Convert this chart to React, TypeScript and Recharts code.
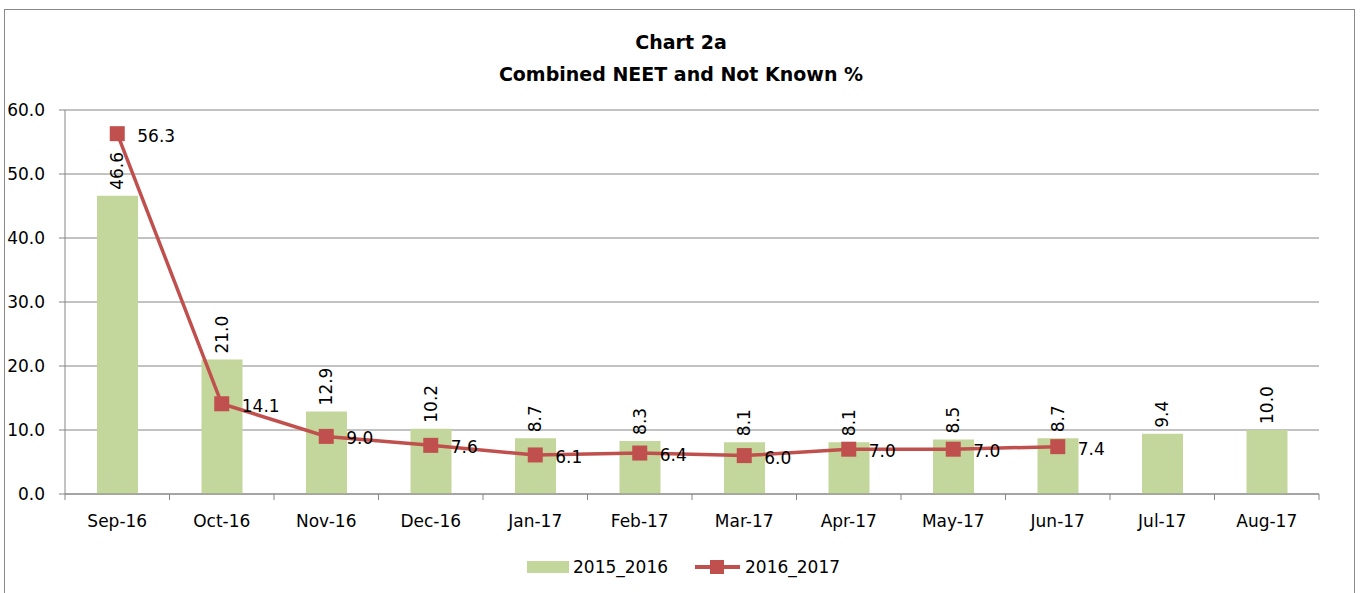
import React from "react";
import {
  ComposedChart,
  Bar,
  Line,
  XAxis,
  YAxis,
  CartesianGrid,
  LabelList,
} from "recharts";

const categories = ["Sep-16", "Oct-16", "Nov-16", "Dec-16", "Jan-17", "Feb-17", "Mar-17", "Apr-17", "May-17", "Jun-17", "Jul-17", "Aug-17"];
const series2015_2016 = [46.6, 21.0, 12.9, 10.2, 8.7, 8.3, 8.1, 8.1, 8.5, 8.7, 9.4, 10.0];
const series2016_2017: (number | null)[] = [56.3, 14.1, 9.0, 7.6, 6.1, 6.4, 6.0, 7.0, 7.0, 7.4, null, null];
const yTicks = [0, 10, 20, 30, 40, 50, 60];
const titleLines = ["Chart 2a", "Combined NEET and Not Known %"];
const seriesNames = ["2015_2016", "2016_2017"];

const data = categories.map((c, i) => ({
  cat: c,
  a: series2015_2016[i],
  b: series2016_2017[i],
}));

const W = 1362;
const H = 593;
const MARGIN = { top: 110, right: 43, bottom: 59, left: 5 };
const YAXIS_W = 60;
const XAXIS_H = 40;
const FONT = "'DejaVu Sans', sans-serif";
const FS = 17;
const GREEN = "#C3D69B";
const RED = "#C0504D";
const GRID = "#868686";
const BAND = (W - MARGIN.left - MARGIN.right - YAXIS_W) / categories.length;

const XTick = (props: any) => {
  const { x, y, payload, index } = props;
  const last = index === categories.length - 1;
  return (
    <g>
      <line x1={x - BAND / 2} x2={x - BAND / 2} y1={y - 6} y2={y} stroke={GRID} />
      {last && <line x1={x + BAND / 2} x2={x + BAND / 2} y1={y - 6} y2={y} stroke={GRID} />}
      <text x={x} y={y + 27} textAnchor="middle" fontFamily={FONT} fontSize={FS} fill="#000">
        {payload.value}
      </text>
    </g>
  );
};

const YTick = (props: any) => {
  const { x, y, payload } = props;
  return (
    <text x={x} y={y} textAnchor="end" dominantBaseline="central" fontFamily={FONT} fontSize={FS} fill="#000">
      {Number(payload.value).toFixed(1)}
    </text>
  );
};

const BarLabel = (props: any) => {
  const { x, y, width, value } = props;
  if (value == null) return null;
  const cx = x + width / 2;
  const ty = y - 6;
  return (
    <text
      x={cx}
      y={ty}
      transform={`rotate(-90, ${cx}, ${ty})`}
      textAnchor="start"
      dominantBaseline="central"
      fontFamily={FONT}
      fontSize={FS}
      fill="#000"
    >
      {Number(value).toFixed(1)}
    </text>
  );
};

const LineLabel = (props: any) => {
  const { x, y, value } = props;
  if (value == null) return null;
  return (
    <text x={x + 20} y={y + 2} dominantBaseline="central" fontFamily={FONT} fontSize={FS} fill="#000">
      {Number(value).toFixed(1)}
    </text>
  );
};

const SquareDot = (props: any) => {
  const { cx, cy, value } = props;
  if (value == null || cx == null || cy == null) return null;
  const s = 15;
  return <rect x={cx - s / 2} y={cy - s / 2} width={s} height={s} fill={RED} />;
};

export default function App() {
  return (
    <div style={{ position: "relative", width: W, height: H, overflow: "hidden", background: "#fff" }}>
      <style>{`body{margin:0;overflow:hidden;}`}</style>
      <ComposedChart width={W} height={H} data={data} margin={MARGIN}>
        <CartesianGrid vertical={false} stroke={GRID} strokeDasharray="" />
        <XAxis
          dataKey="cat"
          height={XAXIS_H}
          axisLine={{ stroke: GRID }}
          tickLine={false}
          tickSize={6}
          tickMargin={0}
          interval={0}
          tick={<XTick />}
        />
        <YAxis
          width={YAXIS_W}
          domain={[0, 60]}
          ticks={yTicks}
          axisLine={{ stroke: GRID }}
          tickLine={{ stroke: GRID }}
          tickSize={6}
          tickMargin={14}
          tick={<YTick />}
          allowDataOverflow
        />
        <Bar dataKey="a" name={seriesNames[0]} fill={GREEN} barSize={41} isAnimationActive={false}>
          <LabelList dataKey="a" content={<BarLabel />} />
        </Bar>
        <Line
          dataKey="b"
          name={seriesNames[1]}
          stroke={RED}
          strokeWidth={3.5}
          dot={<SquareDot />}
          activeDot={false}
          connectNulls={false}
          isAnimationActive={false}
        >
          <LabelList dataKey="b" content={<LineLabel />} />
        </Line>
      </ComposedChart>

      {/* Title */}
      {titleLines.map((t, i) => (
        <div
          key={i}
          style={{
            position: "absolute",
            left: 0,
            width: W,
            top: i === 0 ? 30 : 62,
            height: 24,
            lineHeight: "24px",
            textAlign: "center",
            fontFamily: FONT,
            fontWeight: "bold",
            fontSize: 19,
            color: "#000",
            paddingLeft: 0,
          }}
        >
          {t}
        </div>
      ))}

      {/* Legend */}
      <svg style={{ position: "absolute", left: 0, top: 0 }} width={W} height={H}>
        <rect x={527} y={561} width={42} height={12} fill={GREEN} />
        <text x={573} y={567} dominantBaseline="central" fontFamily={FONT} fontSize={FS} fill="#000">
          {seriesNames[0]}
        </text>
        <line x1={695} x2={740} y1={567} y2={567} stroke={RED} strokeWidth={4} />
        <rect x={710} y={560} width={14} height={14} fill={RED} />
        <text x={745} y={567} dominantBaseline="central" fontFamily={FONT} fontSize={FS} fill="#000">
          {seriesNames[1]}
        </text>
      </svg>

      {/* Outer border */}
      <div
        style={{
          position: "absolute",
          left: 4,
          top: 9,
          width: 1349,
          height: 620,
          border: "1px solid #898989",
          pointerEvents: "none",
        }}
      />
    </div>
  );
}
